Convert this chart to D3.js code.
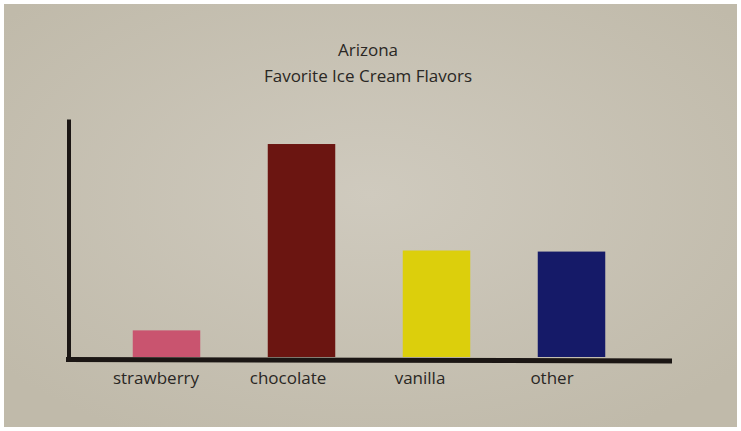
<!DOCTYPE html>
<html>
<head>
<meta charset="utf-8">
<script src="https://cdn.jsdelivr.net/npm/d3@7"></script>
<style>
  body { margin: 0; background: #ffffff; }
  text { font-family: "Open Sans", sans-serif; fill: #2a2724; }
</style>
</head>
<body>
<div id="chart"></div>
<script>
var flavors = ["strawberry", "chocolate", "vanilla", "other"];
var votes = [5, 40, 20, 19.8];
var barColors = ["#c9546f", "#6b1511", "#dccf0c", "#151a68"];
var titleLines = ["Arizona", "Favorite Ice Cream Flavors"];

function init() {
    var w = 741;
    var h = 431;

    var svg = d3.select("#chart")
        .append("svg")
        .attr("width", w)
        .attr("height", h);

    // photo-like paper background
    var defs = svg.append("defs");
    var grad = defs.append("radialGradient")
        .attr("id", "paper")
        .attr("cx", "50%").attr("cy", "45%").attr("r", "65%");
    grad.append("stop").attr("offset", "0%").attr("stop-color", "#cfcabe");
    grad.append("stop").attr("offset", "100%").attr("stop-color", "#c0baaa");

    svg.append("rect")
        .attr("x", 4).attr("y", 4)
        .attr("width", 733).attr("height", 423)
        .attr("fill", "url(#paper)");

    var baseY = 357;

    var xScale = d3.scaleBand()
        .domain(flavors)
        .range([99, 639])
        .paddingInner(0.5)
        .paddingOuter(0.25);

    var labelScale = d3.scalePoint()
        .domain(flavors)
        .range([156, 552]);

    var yScale = d3.scaleLinear()
        .domain([0, 44.7])
        .range([baseY, 119]);

    // bars
    svg.selectAll("rect.bar")
        .data(flavors)
        .enter()
        .append("rect")
        .attr("class", "bar")
        .attr("x", function(d) { return xScale(d); })
        .attr("y", function(d, i) { return yScale(votes[i]); })
        .attr("width", xScale.bandwidth())
        .attr("height", function(d, i) { return baseY - yScale(votes[i]); })
        .attr("fill", function(d, i) { return barColors[i]; });

    // y axis (no ticks)
    var yAxis = svg.append("g")
        .attr("transform", "translate(68.5,0)")
        .call(d3.axisLeft(yScale).ticks(0).tickSize(0).tickSizeOuter(0));
    yAxis.select(".domain")
        .attr("stroke", "#1b1614")
        .attr("stroke-width", 4);

    // x axis line
    svg.append("line")
        .attr("x1", 66).attr("x2", 672)
        .attr("y1", baseY + 2.5).attr("y2", baseY + 4)
        .attr("stroke", "#1b1614")
        .attr("stroke-width", 5);

    // category labels
    svg.selectAll("text.label")
        .data(flavors)
        .enter()
        .append("text")
        .attr("class", "label")
        .attr("x", function(d) { return labelScale(d); })
        .attr("y", 384)
        .attr("text-anchor", "middle")
        .style("font-size", "17px")
        .text(function(d) { return d; });

    // title
    svg.selectAll("text.title")
        .data(titleLines)
        .enter()
        .append("text")
        .attr("class", "title")
        .attr("x", 368)
        .attr("y", function(d, i) { return 56 + i * 26; })
        .attr("text-anchor", "middle")
        .style("font-size", "17px")
        .text(function(d) { return d; });
}

window.onload = init;
</script>
</body>
</html>
